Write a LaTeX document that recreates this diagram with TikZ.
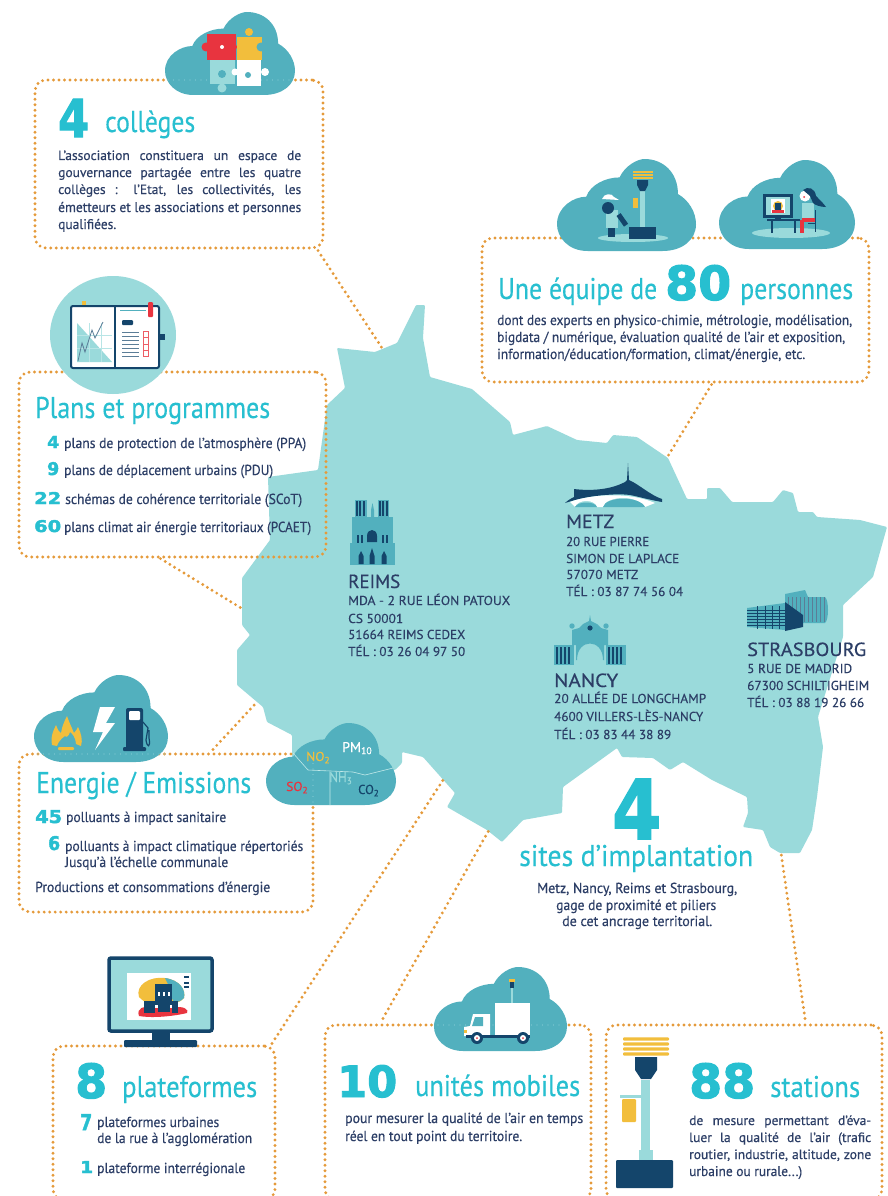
\documentclass[tikz,border=0pt]{standalone}
\usepackage{fontspec}
\usepackage{graphicx}
\setmainfont{PT Sans}[FakeBold=0.35]
\newfontfamily\headf{PT Sans}[FakeBold=0.25]
\newfontfamily\numf{DejaVu Sans Bold}[FakeBold=2.2]
\usetikzlibrary{calc}
\definecolor{mapc}{HTML}{9ADADB}
\definecolor{cloudc}{HTML}{52B0BE}
\definecolor{navy}{HTML}{14456B}
\definecolor{dotc}{HTML}{E59A3A}
\definecolor{ttl}{HTML}{27BFD0}
\definecolor{bodyc}{HTML}{2C3E66}
\definecolor{yel}{HTML}{F2BE3C}
\definecolor{redc}{HTML}{E8343F}
\definecolor{faint}{HTML}{86CCD5}
\tikzset{
 dotline/.style={draw=dotc,line width=3.2pt,line cap=round,dash pattern=on 0pt off 5.5pt},
 faintdots/.style={draw=faint,line width=1.4pt,line cap=round,dash pattern=on 0pt off 5.5pt},
 dotbox/.style={dotline,rectangle,rounded corners=11pt,inner sep=0pt},
 txt/.style={text=bodyc},
 head/.style={text=ttl,font=\headf},
 city/.style={text=bodyc}
}
\newcommand\tl[7][txt]{\node[#1,anchor=base west,inner sep=0pt] (#2) at (#3,#4) {\fontsize{#6}{#6}\selectfont\resizebox{#5pt}{\height}{#7}};}
\newcommand\jl[6]{\node[txt,anchor=base west,inner sep=0pt] (#1) at (#2,#3) {\fontsize{#5}{#5}\selectfont\makebox[#4pt][s]{#6}};}
\newcommand\nm[6]{\node[text=ttl,anchor=base west,inner sep=0pt] (#1) at (#2,#3) {\resizebox{#4pt}{#5pt}{\numf #6}};}
\newcommand\cloud[4]{\begin{scope}[shift={(#1,#2)},xscale=#3/100,yscale=#4/100]
\fill[cloudc] (22,100) .. controls (8,100) and (0,85) .. (0,71) .. controls (0,52) and (12,41) .. (21,41) .. controls (24,28) and (35,20) .. (45,20) .. controls (49,7) and (58,0) .. (63,0) .. controls (76,0) and (87,14) .. (87,38) .. controls (95,45) and (100,58) .. (100,71) .. controls (100,88) and (90,100) .. (76,100) -- cycle;
\end{scope}}
\begin{document}
\begin{tikzpicture}[x=1pt,y=-1pt]
\useasboundingbox (0,0) rectangle (887,1196);
\clip (0,0) rectangle (887,1196);
\fill[white] (0,0) rectangle (887,1196);
% map
\fill[mapc,rounded corners=1pt] (416,305)--(425,305)--(423,338)--(430,377)--(472,389)--(510,422)--(513,435)--(547,426)--(577,440)--(607,443)--(613,435)--(637,437)--(668,458)--(687,499)--(707,499)--(707,488)--(720,488)--(732,502)--(773,502)--(783,490)--(793,493)--(798,512)--(813,512)--(817,517)--(860,520)--(887,527)--(873,577)--(843,605)--(843,637)--(818,717)--(823,747)--(817,797)--(812,830)--(800,853)--(780,853)--(770,847)--(763,830)--(743,827)--(748,813)--(747,797)--(712,780)--(683,762)--(670,770)--(653,758)--(622,757)--(617,748)--(563,787)--(562,813)--(523,820)--(502,842)--(487,830)--(447,807)--(455,793)--(423,757)--(402,752)--(402,763)--(395,770)--(292,770)--(292,735)--(267,722)--(263,707)--(237,685)--(237,650)--(250,635)--(242,625)--(242,578)--(270,540)--(268,477)--(318,470)--(327,405)--(345,388)--(337,348)--(375,352)--(397,343)--cycle;
% boxes
\node[dotbox,minimum width=288pt,minimum height=168pt] (bcoll) at (179,164) {};
\node[dotbox,minimum width=307pt,minimum height=185pt] (bplan) at (172.5,464.5) {};
\node[dotbox,minimum width=294pt,minimum height=158pt] (bener) at (166,833) {};
\node[dotbox,minimum width=387pt,minimum height=144pt] (bequi) at (675.5,310) {};
\node[dotbox,minimum width=222pt,minimum height=154pt] (bplat) at (164,1123) {};
\node[dotbox,minimum width=266pt,minimum height=175pt] (bunit) at (458,1112.5) {};
\node[dotbox,minimum width=276pt,minimum height=175pt] (bstat) at (744,1112.5) {};
% connector ends on the map
\coordinate (mcoll) at (384,351);
\coordinate (mplan) at (241,608);
\coordinate (mener) at (257,702);
\coordinate (mequi) at (668,456);
\coordinate (mplat) at (445,777);
\coordinate (munit) at (489,830);
\coordinate (mstat) at (781,853);
\draw[dotline] ($(bcoll.south)+(139,1)$) -- (mcoll);
\draw[dotline] ($(bplan.south)+(-12,0)$) -- (mplan);
\draw[dotline] ($(bener.north)+(47,-3)$) -- (mener);
\draw[dotline] ($(bequi.south)+(36,1)$) -- (mequi);
\draw[dotline] ($(bplat.north)+(108,-1)$) -- (mplat);
\draw[dotline] ($(bunit.north)+(-75,-5)$) -- (munit);
\draw[dotline] ($(bstat.north)+(61,-5)$) -- (mstat);
% ---- cloud colleges
\cloud{165}{12}{130}{83}
\draw[faintdots] (168,80)--(292,80);
\fill[redc] (207,34) rectangle (236,60); \fill[redc] (206,47) circle (4.5); \fill[redc] (240,47) circle (4);
\fill[yel] (237,37) rectangle (262,60); \fill[yel] (249,32) circle (4); \fill[yel] (249,63) circle (5);
\fill[mapc] (210,60) rectangle (235,84); \fill[mapc] (222,88) circle (4.5);
\fill[white] (237,60) rectangle (261,86); \fill[white] (265,72) circle (4); \fill[white] (235,72) circle (3.5);
\fill[cloudc] (261,47) circle (4.5); \fill[white] (222,47) circle (2); \fill[cloudc] (222,74) circle (4);\fill[cloudc] (248,75) circle (3);
% ---- plan circle + notebook
\fill[mapc] (113,335) ellipse (63 and 59);
\fill[yel] (82,301) rectangle (86,309);
\fill[navy] (158,334) rectangle (165,340);
\draw[navy,line width=2pt,rounded corners=2pt,fill=white] (71,306) rectangle (159,368);
\draw[navy,line width=1.5pt] (115,306)--(115,368);
\fill[mapc] (77,323)--(77,362)--(112,362)--cycle;
\draw[mapc!70!white,line width=.5pt] (77,335)--(112,335) (77,348)--(112,348) (89,323)--(89,362) (101,323)--(101,362);
\draw[navy!70,line width=.8pt] (78,361)--(82,343)--(85,352)--(92,330)--(95,338)--(103,322);
\fill[navy,rounded corners=1pt] (122,320) rectangle (133,325);
\foreach \yy in {332,336,340,344,348,352,356} \draw[navy!70,line width=1pt] (122,\yy)--(139,\yy);
\draw[redc!80,line width=1pt] (143,331) rectangle (148,356) (143,337)--(148,337) (143,344)--(148,344) (143,350)--(148,350);
\fill[redc,rounded corners=1pt] (148,302) rectangle (153,317);
\draw[cloudc,line width=1pt] (120,310)--(146,310);
% ---- energy cloud
\cloud{34}{675}{134}{87}
\draw[faintdots] (38,754)--(165,754);
\fill[yel] (52,745) .. controls (50,735) and (55,728) .. (56,725) .. controls (58,730) and (59,732) .. (61,733) .. controls (62,726) and (65,720) .. (67,716) .. controls (69,722) and (72,728) .. (74,733) .. controls (76,731) and (77,729) .. (78,727) .. controls (81,733) and (83,740) .. (81,746) -- (76,744) .. controls (76,738) and (72,733) .. (70,732) .. controls (69,736) and (66,738) .. (65,736) .. controls (62,738) and (58,742) .. (57,746) -- cycle;
\fill[yel,rounded corners=1pt] (58,747) rectangle (74,750);
\fill[white] (115,707)--(100,707)--(93,732)--(103,732)--(95,750)--(115,723)--(106,723)--cycle;
\fill[navy,rounded corners=2pt] (126,708) rectangle (143,750);
\fill[navy,rounded corners=1pt] (123,747) rectangle (146,751);
\fill[white,rounded corners=1pt] (129,711) rectangle (140,720);
\draw[navy,line width=1.2pt] (143,722) -- (148,728) -- (146,740) .. controls (147,748) and (151,748) .. (149,738) -- (149,730);
% ---- pollutant cloud
\cloud{266}{723}{130}{82}
\draw[faintdots] (313,758)--(313,804);
\draw[mapc!60!white,line width=.6pt] (293,753)--(308,770)--(353,772)--(365,775)--(393,768) (330,772)--(330,805);
\tl[text=yel]{no}{306}{761}{24}{13}{NO\textsubscript{2}}
\tl[text=white]{pm}{342}{752}{30}{14}{PM\textsubscript{10}}
\tl[text=mapc]{nh}{329}{782}{23}{14}{NH\textsubscript{3}}
\tl[text=redc]{so}{286}{791}{22}{13}{SO\textsubscript{2}}
\tl[text=navy]{co}{358}{794}{21}{13}{CO\textsubscript{2}}
% ---- team clouds
\cloud{557}{159}{139}{92}
\cloud{719}{160}{136}{89}
\fill[mapc] (633,238) ellipse (35 and 4);
\fill[navy] (629,227) rectangle (656,239);
\fill[mapc] (640,190) rectangle (645,227);
\fill[navy] (637,180) -- (648,180) -- (648,185) -- (645,191) -- (640,191) -- (637,185) -- cycle;
\foreach \yy in {172,175,178} \fill[yel] (633,\yy-.8) rectangle (653,\yy+.8);
\fill[yel] (633,198) rectangle (638,208);
\fill[mapc] (606,210) rectangle (618,228);
\fill[navy] (608,228) rectangle (612,237); \fill[navy] (612,228) rectangle (615,237);
\fill[navy] (608,208) circle (6);
\fill[white] (602,199) .. controls (604,193) and (612,193) .. (614,197) -- (619,200) -- cycle;
\fill[navy,rotate around={35:(623,220)}] (620,213) rectangle (625,226);
% woman at screen
\fill[mapc] (791,233) ellipse (39 and 5);
\fill[navy] (763,194) rectangle (793,218);
\fill[mapc] (766,197) rectangle (790,215);
\fill[white] (771,199) rectangle (785,213);
\fill[yel] (778,206) circle (5); \fill[navy] (775,203) rectangle (781,210); \fill[redc] (772,210) rectangle (784,212.5);
\fill[navy] (775,218) rectangle (781,220);
\fill[navy] (767,219) rectangle (800,221);
\draw[navy,line width=1.2pt] (772,221)--(772,233) (795,221)--(795,233);
\fill[mapc] (802,203) rectangle (814,220);
\fill[redc] (802,218) rectangle (816,222); \fill[redc] (800,222) rectangle (804,233);\fill[redc] (800,220) rectangle (803,223);
\draw[navy,line width=1pt] (815,210)--(815,232) (808,223)--(816,223);
\fill[white] (805,196) circle (5.5);
\fill[navy] (803,190) .. controls (808,186) and (815,188) .. (816,196) .. controls (820,200) and (824,204) .. (826,207) .. controls (820,207) and (815,205) .. (813,203) -- (810,196) -- cycle;
\fill[redc] (804,197) circle (1);
% ---- reims cathedral
\fill[cloudc] (350,543) rectangle (395,565);
\fill[cloudc] (352,517) rectangle (393,543);
\fill[cloudc] (355,500) rectangle (367,517);\fill[cloudc] (378,500) rectangle (389,517);
\foreach \xx in {357,360,364,380,383,387} \fill[navy] (\xx-.9,501) rectangle (\xx+.9,516);
\fill[navy] (367,542) -- (367,536) .. controls (367,528) and (377,528) .. (377,536) -- (377,542) -- cycle;
\foreach \xx in {358,362,383,387} \fill[navy] (\xx-1,535) rectangle (\xx+1,543);
\foreach \xx/\hh in {361/551,372/548,384/551} \fill[navy] (\xx-2.5,564)--(\xx-2.5,556)--(\xx,\hh)--(\xx+2.5,556)--(\xx+2.5,564)--cycle;
\fill[cloudc] (371,510)--(372.5,503)--(374,510)--(374,517)--(371,517)--cycle;
% ---- metz
\fill[navy] (565,503) .. controls (568,500) and (572,498) .. (574,497) -- (574,489) .. controls (590,491) and (610,490) .. (625,482) -- (627,480) -- (628,463) -- (629,480) .. controls (640,485) and (650,495) .. (662,499) -- (662,502) .. controls (650,500) and (640,497) .. (630,495) .. controls (615,493) and (590,496) .. (575,500) -- cycle;
\fill[white] (570,502) .. controls (585,496) and (625,490) .. (655,503) -- (645,507) -- (643,507) .. controls (640,495) and (606,495) .. (603,507) -- (597,507) .. controls (595,499) and (578,499) .. (575,507) -- cycle;
\fill[cloudc] (575,507) .. controls (578,501) and (595,501) .. (597,507) -- cycle;
\fill[cloudc] (603,507) .. controls (606,496) and (640,496) .. (645,507) -- cycle;
% ---- nancy
\fill[cloudc] (572,645) -- (572,630) -- (579,628) -- (583,624) -- (589,621) -- (590,615) -- (591,621) -- (597,624) -- (601,628) -- (608,630) -- (608,645) -- (604,645) -- (604,660) -- (603,660) .. controls (603,638) and (577,638) .. (577,660) -- (576,660)-- (576,645) -- cycle;
\fill[cloudc] (572,626) circle (2.7); \fill[cloudc] (606,626) circle (2.7);
\fill[navy] (590,628) circle (2.6);
\fill[cloudc] (554,645) rectangle (574,665); \fill[cloudc] (606,645) rectangle (626,665);
\foreach \xx in {557,561,565,569,609,613,617,621} \fill[navy] (\xx-1,647) rectangle (\xx+1,664);
% ---- strasbourg
\fill[cloudc] (785,594) -- (805,590) -- (808,597) -- (825,597) .. controls (829,600) and (829,620) .. (825,623) -- (800,623) -- (785,615) -- cycle;
\foreach \xx in {788,792,796,800,804,808,812,816,820,824} \draw[navy!70,line width=.6pt] (\xx,597)--(\xx,622);
\fill[cloudc] (747,608) -- (785,603) -- (785,630) -- (747,627) -- cycle;
\foreach \yy in {610,613,616,619,622,625} \draw[navy,line width=.7pt] (747,\yy)--(785,\yy);
\foreach \xx in {757,765,772,779} \draw[navy,line width=.7pt] (\xx,606)--(\xx,629);
\fill[navy] (785,602)--(803,615)--(803,627)--(785,631)--cycle;
% ---- monitor
\fill[navy] (152,1031) rectangle (170,1043);
\fill[navy,rounded corners=1pt] (124,1040) rectangle (197,1047);
\draw[navy,line width=3.5pt,rounded corners=2pt,fill=mapc] (109,958) rectangle (212,1031);
\fill[white] (127,973) rectangle (191,1020);
\fill[yel] (139,997) .. controls (135,985) and (150,976) .. (165,978) .. controls (180,980) and (186,990) .. (184,998) .. controls (180,1005) and (150,1010) .. (139,997) -- cycle;
\fill[cloudc] (165,978) .. controls (180,980) and (186,990) .. (184,998) .. controls (178,1004) and (170,1004) .. (172,992) -- cycle;
\fill[redc] (139,1016) .. controls (136,1008) and (145,1005) .. (150,1008) -- (175,1008) .. controls (182,1005) and (190,1010) .. (187,1013) .. controls (170,1017) and (150,1018) .. (139,1016) -- cycle;
\fill[navy] (155,984) rectangle (172,1005); \fill[navy] (144,1001) rectangle (155,1013); \fill[navy] (172,1001) rectangle (178,1013);\fill[navy] (158,1005) rectangle (170,1012);
\foreach \xx in {158,163,168} \fill[white] (\xx,992) rectangle (\xx+2,996);
\foreach \yy in {976,982,986} \fill[navy] (184,\yy) rectangle (189,\yy+2);
% ---- truck
\cloud{434}{967}{133}{84}
\draw[faintdots] (438,1025)--(564,1025);
\fill[yel] (509,979) rectangle (515,982);
\fill[navy] (510,982) rectangle (514,988);
\fill[mapc] (511,988) rectangle (513,1003);
\fill[white] (495,1003) rectangle (530,1036);
\fill[white] (473,1014) -- (490,1014) -- (490,1036) -- (464,1036) -- (464,1027) -- (470,1026) -- cycle;
\fill[cloudc] (475,1017) -- (483,1017) -- (483,1026) -- (472,1026) -- cycle;
\fill[navy] (466,1035) rectangle (530,1038);
\fill[navy] (477,1038) circle (6); \fill[white] (477,1038) circle (3); \fill[redc] (477,1038) circle (1);
\fill[navy] (523,1038) circle (6); \fill[white] (523,1038) circle (3); \fill[redc] (523,1038) circle (1);
\fill[yel] (464,1030) rectangle (467,1033);
% ---- station
\foreach \yy in {1039,1044,1049,1054} \fill[yel,rounded corners=1pt] (623,\yy-1.7) rectangle (669,\yy+1.7);
\fill[navy] (635,1057) -- (657,1057) -- (657,1070) -- (651,1079) -- (641,1079) -- (635,1070) -- cycle;
\fill[mapc] (641,1080) rectangle (650,1160);
\fill[mapc] (639,1150) rectangle (653,1160);
\fill[mapc] (620,1095) rectangle (642,1098);
\fill[yel,rounded corners=1pt] (622,1099) rectangle (636,1122);
\fill[navy,rounded corners=1pt] (616,1160) rectangle (673,1188);
% ---- texts
\nm{ncoll}{58}{137}{31}{38}{4}
\tl[head]{tcoll}{105}{132}{90}{30}{collèges}
\jl{c1}{58}{160}{243}{13.5}{L’association constituera un espace de}
\jl{c2}{58}{177}{243}{13.5}{gouvernance partagée entre les quatre}
\jl{c3}{58}{194}{243}{13.5}{collèges : l’Etat, les collectivités, les}
\tl{c4}{58}{212}{243}{14}{émetteurs et les associations et personnes}
\tl{c5}{58}{229}{58}{14}{qualifiées.}
\tl[head]{tplan}{35}{418}{235}{30}{Plans et programmes}
\nm{np1}{47}{448}{12}{12}{4}
\tl{p1}{64}{448}{242}{14.5}{plans de protection de l’atmosphère (PPA)}
\nm{np2}{47}{475}{12}{13}{9}
\tl{p2}{64}{475}{209}{14.5}{plans de déplacement urbains (PDU)}
\nm{np3}{34}{504}{27}{12}{22}
\tl{p3}{65}{504}{237}{14.5}{schémas de cohérence territoriale (SCoT)}
\nm{np4}{34}{532}{27}{12}{60}
\tl{p4}{64}{532}{247}{14.5}{plans climat air énergie territoriaux (PCAET)}
\tl[head]{tener}{36}{793}{215}{30}{Energie / Emissions}
\nm{ne1}{35}{823}{27}{13}{45}
\tl{e1}{66}{822}{160}{14.5}{polluants à impact sanitaire}
\nm{ne2}{48}{850}{12}{14}{6}
\tl{e2}{65}{851}{238}{14.5}{polluants à impact climatique répertoriés}
\tl{e3}{65}{867}{163}{14.5}{Jusqu’à l’échelle communale}
\tl{e4}{35}{892}{235}{14.5}{Productions et consommations d’énergie}
\tl[head]{tequ1}{498}{299}{159}{30}{Une équipe de}
\nm{nequ}{665}{300}{66}{35}{80}
\tl[head]{tequ2}{740}{299}{113}{30}{personnes}
\tl{q1}{497}{325}{355}{14.5}{dont des experts en physico-chimie, métrologie, modélisation,}
\tl{q2}{497}{342}{348}{14.5}{bigdata / numérique, évaluation qualité de l’air et exposition,}
\tl{q3}{497}{359}{308}{14.5}{information/éducation/formation, climat/énergie, etc.}
\tl{r0}{348}{588}{52}{19}{REIMS}
\tl{r1}{348}{605}{162}{13}{MDA - 2 RUE LÉON PATOUX}
\tl{r2}{348}{623}{55}{13}{CS 50001}
\tl{r3}{348}{639}{117}{13}{51664 REIMS CEDEX}
\tl{r4}{348}{656}{117}{13}{TÉL : 03 26 04 97 50}
\tl{m0}{566}{528}{48}{19}{METZ}
\tl{m1}{566}{546}{83}{13}{20 RUE PIERRE}
\tl{m2}{566}{563}{113}{13}{SIMON DE LAPLACE}
\tl{m3}{566}{579}{72}{13}{57070 METZ}
\tl{m4}{566}{596}{117}{13}{TÉL : 03 87 74 56 04}
\tl{n0}{554}{687}{64}{19}{NANCY}
\tl{n1}{554}{703}{152}{13}{20 ALLÉE DE LONGCHAMP}
\tl{n2}{554}{721}{149}{13}{4600 VILLERS-LÈS-NANCY}
\tl{n3}{554}{739}{117}{13}{TÉL : 03 83 44 38 89}
\tl{s0}{747}{656}{119}{19}{STRASBOURG}
\tl{s1}{747}{673}{105}{13}{5 RUE DE MADRID}
\tl{s2}{747}{690}{122}{13}{67300 SCHILTIGHEIM}
\tl{s3}{747}{707}{117}{13}{TÉL : 03 88 19 26 66}
\nm{nsit}{612}{839}{49}{60}{4}
\tl[head]{tsit}{519}{866}{234}{30}{sites d’implantation}
\tl{i1}{537}{893}{200}{14.5}{Metz, Nancy, Reims et Strasbourg,}
\tl{i2}{556}{910}{160}{14.5}{gage de proximité et piliers}
\tl{i3}{562}{926}{150}{14.5}{de cet ancrage territorial.}
\nm{nplat}{75}{1098}{32}{35}{8}
\tl[head]{tplat}{122}{1097}{135}{30}{plateformes}
\nm{npa}{80}{1130}{12}{16}{7}
\tl{a1}{97}{1127}{122}{14.5}{plateformes urbaines}
\tl{a2}{97}{1143}{155}{14.5}{de la rue à l’agglomération}
\nm{npb}{80}{1173}{13}{12}{1}
\tl{a3}{97}{1173}{148}{14.5}{plateforme interrégionale}
\nm{nuni}{337}{1097}{60}{32}{10}
\tl[head]{tuni}{415}{1096}{165}{30}{unités mobiles}
\tl{u1}{345}{1123}{238}{14.5}{pour mesurer la qualité de l’air en temps}
\tl{u2}{345}{1141}{177}{14.5}{réel en tout point du territoire.}
\nm{nsta}{689}{1098}{66}{35}{88}
\tl[head]{tsta}{770}{1097}{90}{30}{stations}
\jl{v1}{689}{1125}{182}{13.5}{de mesure permettant d’éva-}
\jl{v2}{689}{1142}{182}{13.5}{luer la qualité de l’air (trafic}
\jl{v3}{689}{1159}{182}{13.5}{routier, industrie, altitude, zone}
\tl{v4}{689}{1176}{113}{14}{urbaine ou rurale...)}
\end{tikzpicture}
\end{document}
